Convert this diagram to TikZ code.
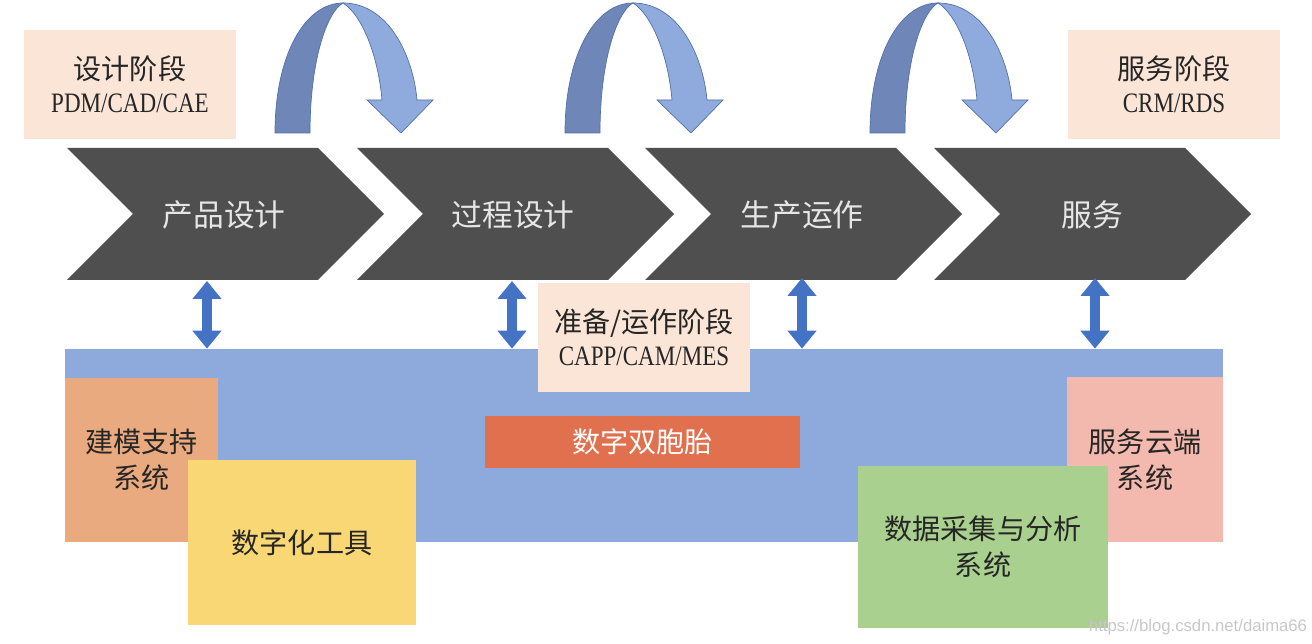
\documentclass[tikz,border=0pt]{standalone}
\usepackage{fontspec}
\setmainfont{Noto Sans CJK SC}
\newfontfamily\latn[FakeStretch=0.82]{Liberation Serif}
\newfontfamily\wmfont{Liberation Sans}
\usetikzlibrary{arrows.meta}

\definecolor{chevgray}{HTML}{4F4F4F}
\definecolor{chevtext}{HTML}{E6E6E6}
\definecolor{bandblue}{HTML}{8EA9DB}
\definecolor{peach}{HTML}{FAE5D7}
\definecolor{linkblue}{HTML}{4472C4}
\definecolor{turndark}{HTML}{6F86B8}
\definecolor{turnlight}{HTML}{8FAADC}
\definecolor{turnedge}{HTML}{5470A8}
\definecolor{twinred}{HTML}{E1704F}
\definecolor{modelorange}{HTML}{EAAA7F}
\definecolor{toolyellow}{HTML}{F8D774}
\definecolor{cloudpink}{HTML}{F4B9AE}
\definecolor{datagreen}{HTML}{A9D08E}
\definecolor{inktext}{HTML}{262626}

\tikzset{
  stage/.style={text=chevtext, font=\fontsize{17.5}{20}\selectfont},
  phase/.style={fill=peach, text=inktext, align=center, inner sep=0pt,
    minimum width=4.24cm, minimum height=2.18cm,
    font=\fontsize{16}{18.8}\selectfont},
  sysbox/.style={text=inktext, align=center, inner sep=0pt,
    font=\fontsize{16}{20.5}\selectfont},
  dblarrow/.style={linkblue, line width=0.2cm,
    {Triangle[width=0.56cm,length=0.36cm]}-{Triangle[width=0.56cm,length=0.36cm]}},
}

\begin{document}
\begin{tikzpicture}[x=0.02cm, y=-0.02cm]
  \useasboundingbox (0,0) rectangle (1312,644);

  % U-turn arrows above the chevrons
  \foreach \dx in {0,290,595} {
    \begin{scope}[shift={(\dx,0)}]
      \filldraw[fill=turndark, draw=turnedge, line width=0.4pt]
        (275,133) .. controls (275,55) and (305,3) .. (343,3)
        .. controls (327,12) and (310,60) .. (310,133) -- cycle;
      \filldraw[fill=turnlight, draw=turnedge, line width=0.4pt]
        (343,3) .. controls (388,3) and (413,55) .. (417,100)
        -- (433,100) -- (401,133) -- (367,100) -- (382,100)
        .. controls (378,55) and (362,15) .. (343,3) -- cycle;
    \end{scope}
  }

  % process chevrons
  \foreach \l in {67,357,645,934} {
    \fill[chevgray] (\l,148) -- (\l+251,148) -- (\l+317,214)
      -- (\l+251,280) -- (\l,280) -- (\l+66,214) -- cycle;
  }
  \node[stage] (s1) at (224,215) {产品设计};
  \node[stage] (s2) at (513,215) {过程设计};
  \node[stage] (s3) at (802,215) {生产运作};
  \node[stage] (s4) at (1092,215) {服务};

  % phase labels
  \node[phase] (p1) at (130,84.5) {设计阶段\\{\latn PDM/CAD/CAE}};
  \node[phase] (p3) at (1174,84.5) {服务阶段\\{\latn CRM/RDS}};

  % digital twin band
  \node[fill=bandblue, inner sep=0pt, minimum width=23.16cm,
    minimum height=3.86cm] (band) at (644,445.5) {};

  % links between stages and band
  \coordinate (c1) at (207,281);
  \coordinate (c2) at (512,281);
  \coordinate (c3) at (802,278);
  \coordinate (c4) at (1095,278);
  \foreach \c in {c1,c2,c3,c4} {
    \draw[dblarrow] (\c) -- (\c |- band.north);
  }

  \node[phase] (p2) at (644,337.5) {准备/运作阶段\\{\latn CAPP/CAM/MES}};

  \node[fill=twinred, text=white, inner sep=0pt, minimum width=6.3cm,
    minimum height=1.04cm, font=\fontsize{16}{19}\selectfont]
    (twin) at (642.5,442) {数字双胞胎};

  % supporting systems
  \node[sysbox, fill=modelorange, minimum width=3.06cm, minimum height=3.28cm]
    (model) at (141.5,460) {建模支持\\系统};
  \node[sysbox, fill=toolyellow, minimum width=4.56cm, minimum height=3.3cm]
    (tool) at (302,542.5) {数字化工具};
  \node[sysbox, fill=cloudpink, minimum width=3.12cm, minimum height=3.3cm]
    (cloud) at (1145,459.5) {服务云端\\系统};
  \node[sysbox, fill=datagreen, minimum width=5cm, minimum height=3.24cm]
    (data) at (983,547) {数据采集与分析\\系统};

  % watermark
  \node[text=black!22, font=\wmfont\fontsize{9.5}{11}\selectfont]
    (mark) at (1198,627) {https://blog.csdn.net/daima66};
\end{tikzpicture}
\end{document}
